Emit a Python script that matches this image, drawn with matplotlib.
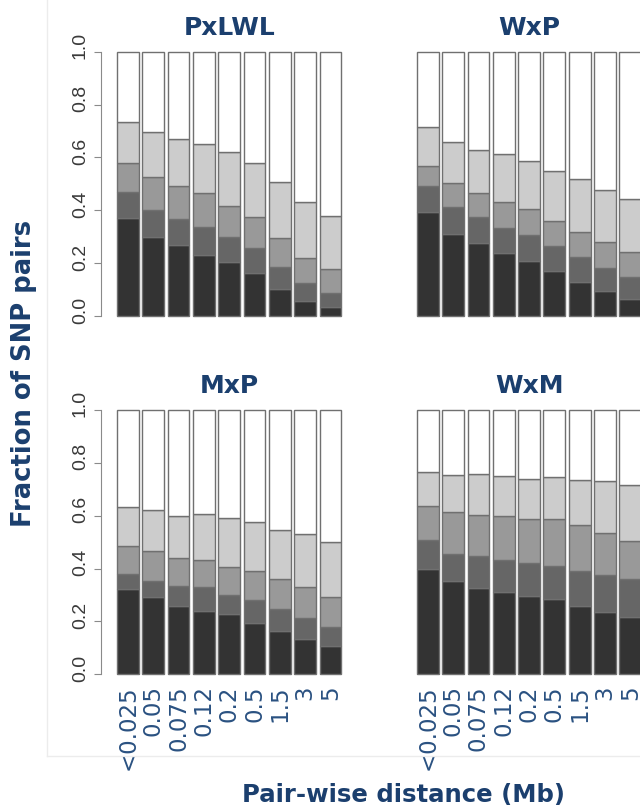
import numpy as np
import matplotlib.pyplot as plt
import matplotlib.transforms as mtransforms
from matplotlib.lines import Line2D

plt.rcParams['font.family'] = ['DejaVu Sans']

# distance classes (Mb)
distancias = ['<0.025', '0.05', '0.075', '0.12', '0.2', '0.5', '1.5', '3', '5']

# cumulative tops of the four lower segments, per cross (white fills up to 1.0)
pxlwl = [[0.369, 0.298, 0.269, 0.231, 0.206, 0.161, 0.101, 0.057, 0.035],
         [0.470, 0.401, 0.366, 0.335, 0.300, 0.256, 0.187, 0.124, 0.086],
         [0.578, 0.527, 0.493, 0.467, 0.416, 0.373, 0.296, 0.221, 0.177],
         [0.735, 0.697, 0.668, 0.651, 0.622, 0.578, 0.508, 0.433, 0.378]]
wxp = [[0.392, 0.310, 0.277, 0.237, 0.209, 0.171, 0.130, 0.096, 0.064],
       [0.493, 0.411, 0.373, 0.334, 0.305, 0.266, 0.222, 0.182, 0.146],
       [0.569, 0.502, 0.467, 0.433, 0.404, 0.359, 0.319, 0.281, 0.243],
       [0.714, 0.660, 0.628, 0.613, 0.585, 0.547, 0.518, 0.477, 0.441]]
mxp = [[0.322, 0.294, 0.257, 0.238, 0.226, 0.194, 0.165, 0.134, 0.105],
       [0.378, 0.351, 0.332, 0.329, 0.298, 0.279, 0.245, 0.213, 0.180],
       [0.486, 0.468, 0.439, 0.433, 0.404, 0.392, 0.361, 0.330, 0.294],
       [0.631, 0.622, 0.600, 0.605, 0.590, 0.575, 0.546, 0.530, 0.502]]
wxm = [[0.397, 0.351, 0.325, 0.310, 0.296, 0.284, 0.259, 0.237, 0.216],
       [0.508, 0.455, 0.449, 0.433, 0.422, 0.410, 0.392, 0.376, 0.359],
       [0.637, 0.612, 0.603, 0.600, 0.588, 0.588, 0.565, 0.536, 0.504],
       [0.767, 0.752, 0.758, 0.750, 0.738, 0.745, 0.735, 0.730, 0.717]]

cruces = ['PxLWL', 'WxP', 'MxP', 'WxM']
datos = [pxlwl, wxp, mxp, wxm]
grises = ['#333333', '#666666', '#999999', '#cccccc', '#ffffff']
azul = '#1b3f6e'

fig = plt.figure(figsize=(6.4, 8.11), dpi=100)

# faint border of the pasted image
fig.add_artist(Line2D([47/640, 47/640], [1, 1-756/811], color='#ececec', lw=1))
fig.add_artist(Line2D([47/640, 1], [1-756/811, 1-756/811], color='#ececec', lw=1))

posiciones = [(0.1605, 0.6071), (0.629, 0.6071), (0.1605, 0.1654), (0.629, 0.1654)]
x = np.arange(len(distancias))

for k, (nombre, niveles) in enumerate(zip(cruces, datos)):
    ax = fig.add_axes([posiciones[k][0], posiciones[k][1], 0.3795, 0.3324])
    tops = np.vstack([niveles, np.ones(len(distancias))])
    abajo = np.zeros(len(distancias))
    for i in range(5):
        ax.bar(x, tops[i] - abajo, bottom=abajo, width=0.86, color=grises[i],
               edgecolor='#707070', linewidth=1.0)
        abajo = tops[i]
    ax.set_xlim(-1.0, 8.6)
    ax.set_ylim(-0.01, 1.01)
    for s in ['top', 'right', 'bottom']:
        ax.spines[s].set_visible(False)
    ax.text(4, 1.063, nombre, ha='center', va='baseline', fontsize=18,
            fontweight='bold', color=azul)

    if k % 2 == 0:
        ax.spines['left'].set_bounds(0, 1)
        ax.spines['left'].set_color('#8a8a8a')
        ax.spines['left'].set_position(('data', -1.05))
        ax.set_yticks([0, 0.2, 0.4, 0.6, 0.8, 1.0])
        ax.set_yticklabels(['0.0', '0.2', '0.4', '0.6', '0.8', '1.0'])
        ax.tick_params(axis='y', length=5, color='#8a8a8a', labelsize=14,
                       labelcolor='#3a3a3a', pad=4, labelrotation=90)
        subir = mtransforms.ScaledTranslation(0, 6/100, fig.dpi_scale_trans)
        for t in ax.get_yticklabels():
            t.set_va('center')
            t.set_family(['Liberation Sans', 'DejaVu Sans'])
            t.set_transform(t.get_transform() + subir)
    else:
        ax.spines['left'].set_visible(False)
        ax.set_yticks([])

    if k >= 2:
        ax.set_xticks(x)
        ax.set_xticklabels(distancias, rotation=90, fontsize=16.5, color='#2a5181')
        ax.tick_params(axis='x', length=0, pad=6)
    else:
        ax.set_xticks([])

fig.text(0.0375, 0.539, 'Fraction of SNP pairs', rotation=90, ha='center', va='center',
         fontsize=18.6, fontweight='bold', color=azul)
fig.text(403/640, 1-802/811, 'Pair-wise distance (Mb)', ha='center', va='baseline',
         fontsize=17.6, fontweight='bold', color=azul)

fig.savefig('out.png', dpi=100)
